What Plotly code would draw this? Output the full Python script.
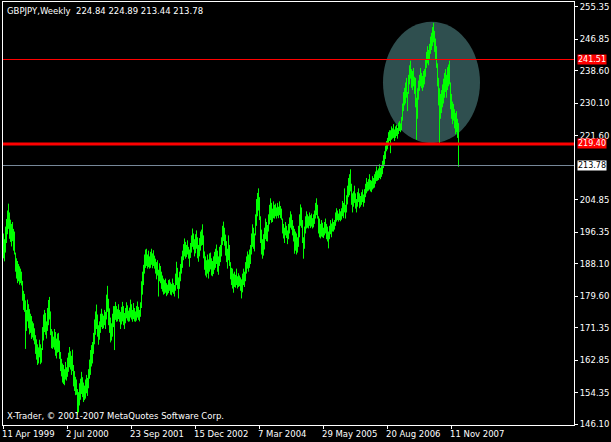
import pandas as pd
import plotly.graph_objects as go

# ---------------- data ----------------
SYMBOL = "GBPJPY,Weekly"
START = "1999-04-11"

HIGHS = [
    196.0, 194.5, 197.8, 199.8, 202.0, 203.8, 201.5, 199.6, 198.5, 199.0,
    197.2, 196.5, 191.0, 189.5, 188.8, 188.0, 187.4, 186.8, 186.0, 183.6,
    181.0, 180.2, 178.5, 176.0, 178.7, 177.5, 176.2, 175.0, 174.4, 173.0,
    172.5, 171.2, 169.4, 168.3, 167.0, 166.2, 168.2, 167.0, 166.0, 171.5,
    174.8, 176.0, 175.2, 173.0, 176.5, 178.6, 179.4, 175.6, 171.0, 170.4,
    169.0, 171.0, 170.2, 168.5, 169.8, 170.0, 168.0, 165.0, 163.2, 162.0,
    161.6, 160.5, 162.4, 161.0, 163.5, 164.8, 166.3, 165.2, 164.0, 165.6,
    161.6, 160.0, 158.5, 157.8, 155.3, 154.5, 156.8, 158.0, 159.8, 158.4,
    157.0, 156.2, 157.8, 159.0, 158.2, 160.5, 163.0, 165.5, 166.8, 167.6,
    170.0, 173.5, 175.6, 177.4, 174.8, 172.0, 173.0, 175.0, 176.3, 175.0,
    174.5, 176.0, 175.5, 180.0, 182.3, 178.9, 176.4, 174.0, 172.5, 175.0,
    177.0, 177.0, 178.1, 177.0, 176.2, 177.5, 176.0, 175.5, 176.8, 178.1,
    177.0, 175.2, 176.5, 178.0, 177.2, 175.8, 176.6, 178.7, 177.5, 176.0,
    177.8, 176.5, 175.6, 177.0, 178.2, 176.8, 176.0, 178.0, 183.5, 186.0,
    187.8, 190.5, 191.8, 192.0, 190.5, 191.5, 190.0, 191.2, 192.0, 190.8,
    191.6, 190.2, 189.4, 188.5, 189.0, 186.5, 188.2, 187.5, 186.0, 185.0,
    184.2, 183.8, 184.2, 183.0, 182.6, 183.8, 184.0, 183.2, 182.8, 184.2,
    183.0, 182.5, 185.5, 188.6, 187.0, 184.5, 186.0, 188.0, 190.0, 191.5,
    193.2, 194.7, 193.8, 193.0, 194.2, 192.5, 191.8, 193.5, 195.5, 197.3,
    196.0, 194.5, 195.8, 196.8, 195.0, 193.0, 194.8, 196.5, 197.0, 198.4,
    195.5, 191.3, 190.0, 189.0, 190.5, 189.2, 190.8, 191.0, 189.5, 188.8,
    190.0, 191.2, 192.0, 193.1, 191.5, 190.0, 192.5, 193.0, 195.0, 198.0,
    199.1, 197.5, 195.7, 194.0, 192.0, 195.5, 193.0, 188.5, 187.0, 186.8,
    185.5, 186.0, 185.2, 186.8, 184.8, 185.6, 185.0, 184.5, 184.0, 185.5,
    186.8, 186.0, 188.5, 190.0, 191.3, 190.5, 191.8, 193.0, 196.0, 198.4,
    197.5, 196.0, 201.0, 205.0, 206.6, 207.8, 205.5, 200.5, 197.0, 194.5,
    195.8, 197.5, 199.9, 199.0, 198.2, 201.0, 203.5, 205.2, 204.0, 202.5,
    204.4, 203.5, 203.8, 202.8, 204.0, 203.0, 204.4, 203.2, 202.5, 199.9,
    198.5, 197.5, 199.0, 198.0, 196.8, 198.5, 200.2, 201.8, 201.0, 199.5,
    198.0, 197.2, 196.5, 196.0, 195.0, 198.0, 201.0, 203.6, 202.8, 199.5,
    195.0, 197.8, 200.5, 201.8, 201.0, 200.5, 201.5, 200.8, 201.2, 200.0,
    201.0, 202.0, 204.0, 205.2, 203.5, 200.5, 199.9, 198.5, 199.5, 198.8,
    197.5, 199.0, 199.9, 198.5, 197.8, 196.5, 198.0, 199.5, 198.6, 199.9,
    199.0, 199.5, 201.5, 202.6, 202.0, 201.2, 202.4, 201.8, 202.6, 204.5,
    204.0, 207.8, 203.5, 206.0, 208.5, 210.5, 211.5, 212.8, 209.0, 206.5,
    207.0, 208.5, 206.5, 205.0, 206.8, 207.8, 206.5, 205.8, 206.8, 207.5,
    206.2, 207.6, 209.0, 210.5, 209.5, 210.2, 211.5, 210.0, 209.8, 211.0,
    210.5, 211.5, 212.2, 213.5, 212.5, 213.0, 214.1, 213.2, 213.8, 215.0,
    216.5, 217.5, 219.0, 220.2, 221.0, 222.5, 223.0, 223.0, 224.0, 223.5,
    224.6, 223.2, 224.0, 224.4, 223.6, 225.0, 225.4, 224.8, 226.5, 230.0,
    233.0, 234.1, 235.5, 236.7, 233.0, 237.5, 240.0, 241.2, 239.0, 238.5,
    239.3, 237.0, 236.7, 231.5, 234.0, 236.0, 237.5, 239.3, 238.0, 237.2,
    238.5, 239.0, 241.5, 243.5, 245.0, 244.0, 245.6, 247.5, 248.5, 250.0,
    251.1, 249.0, 247.0, 245.0, 240.5, 236.7, 234.0, 232.5, 233.5, 235.0,
    236.5, 238.0, 239.0, 237.5, 239.5, 240.2, 241.2, 235.5, 232.5, 230.5,
    229.9, 228.5, 227.5, 228.0, 226.0, 224.89,
]

LOWS = [
    189.5, 188.7, 191.0, 193.5, 195.8, 197.2, 194.6, 193.8, 192.6, 194.0,
    191.5, 190.5, 186.0, 184.2, 183.0, 183.5, 182.6, 183.0, 182.4, 178.4,
    176.0, 175.5, 165.8, 170.5, 173.0, 171.2, 169.6, 170.0, 168.4, 168.8,
    168.0, 167.0, 164.5, 163.0, 161.6, 162.0, 163.6, 161.8, 162.2, 165.5,
    168.0, 170.2, 169.5, 168.5, 170.5, 172.0, 173.5, 169.4, 166.0, 165.8,
    166.2, 165.6, 164.0, 163.3, 164.8, 165.0, 163.2, 160.0, 158.6, 157.0,
    156.6, 156.3, 157.8, 157.5, 158.5, 159.8, 161.0, 160.4, 159.0, 160.0,
    156.0, 154.8, 153.7, 153.8, 148.5, 149.2, 151.0, 152.5, 154.0, 153.2,
    151.9, 152.4, 152.8, 154.2, 153.5, 155.5, 158.0, 159.0, 161.2, 162.0,
    164.5, 167.0, 169.5, 171.0, 169.0, 166.9, 168.2, 170.0, 171.5, 171.0,
    171.2, 172.0, 171.0, 173.5, 175.5, 172.0, 170.0, 167.5, 168.0, 169.0,
    171.5, 165.5, 173.4, 172.9, 173.0, 173.6, 172.9, 171.0, 172.2, 173.0,
    172.0, 171.0, 172.5, 173.8, 173.2, 172.9, 173.0, 174.0, 173.5, 172.9,
    173.6, 173.0, 172.9, 173.2, 174.0, 173.4, 173.0, 174.2, 176.5, 180.0,
    182.5, 185.5, 187.0, 187.5, 186.8, 187.2, 186.8, 187.0, 187.8, 186.9,
    187.5, 186.8, 185.5, 184.0, 185.0, 179.5, 183.5, 183.0, 181.5, 180.8,
    180.0, 180.2, 180.5, 179.6, 180.0, 180.4, 181.0, 180.0, 179.8, 180.6,
    180.2, 179.5, 181.0, 182.5, 181.5, 179.0, 181.5, 183.5, 185.5, 187.0,
    189.0, 190.0, 189.4, 189.8, 190.5, 189.4, 187.3, 189.6, 191.0, 192.5,
    191.8, 190.0, 190.8, 192.0, 189.5, 188.6, 190.0, 191.5, 192.8, 193.0,
    189.5, 186.5, 185.0, 184.5, 185.5, 184.2, 186.0, 186.6, 185.0, 184.8,
    185.4, 186.5, 187.0, 188.0, 186.0, 185.2, 187.5, 188.5, 190.0, 193.0,
    194.0, 192.8, 190.2, 188.5, 186.8, 189.0, 187.5, 184.0, 182.5, 181.6,
    180.5, 182.0, 181.8, 182.5, 181.6, 182.0, 182.2, 181.0, 179.0, 180.6,
    182.5, 182.0, 183.5, 185.5, 186.8, 186.0, 187.0, 188.0, 190.5, 192.5,
    192.0, 191.3, 195.5, 198.0, 200.5, 202.0, 199.5, 193.5, 190.5, 189.4,
    190.2, 191.8, 194.5, 194.0, 193.9, 196.5, 198.4, 199.5, 198.8, 199.0,
    200.0, 199.9, 200.5, 199.9, 200.6, 200.0, 200.8, 200.0, 199.6, 196.0,
    194.7, 193.5, 195.5, 194.8, 193.2, 194.5, 196.0, 197.5, 197.0, 195.5,
    193.9, 190.7, 191.5, 190.5, 191.0, 192.5, 195.0, 198.0, 197.5, 193.5,
    189.4, 192.0, 196.0, 197.3, 197.5, 197.3, 198.0, 197.4, 197.8, 197.3,
    197.6, 198.5, 199.9, 200.8, 199.9, 196.0, 195.0, 194.7, 195.2, 195.0,
    194.8, 195.5, 196.0, 194.5, 193.9, 192.1, 194.5, 195.8, 195.0, 196.5,
    196.5, 197.0, 198.0, 199.1, 199.5, 199.1, 199.5, 199.2, 199.6, 200.5,
    200.0, 201.5, 199.9, 201.5, 203.6, 205.5, 206.0, 207.0, 203.5, 201.5,
    203.0, 204.0, 202.5, 201.5, 203.0, 204.2, 202.6, 203.0, 203.5, 204.2,
    203.0, 204.0, 205.5, 206.5, 207.0, 207.2, 207.5, 207.0, 206.8, 207.5,
    207.8, 208.0, 209.0, 209.7, 209.8, 210.0, 210.5, 210.2, 210.8, 211.5,
    213.1, 214.0, 215.5, 217.5, 218.0, 219.0, 220.2, 217.0, 220.5, 220.8,
    221.0, 220.2, 221.0, 221.5, 220.8, 222.0, 222.8, 222.5, 223.0, 225.5,
    228.0, 229.5, 230.0, 231.5, 228.0, 232.5, 235.0, 236.5, 234.1, 233.5,
    234.5, 232.5, 229.0, 220.5, 226.0, 231.0, 233.3, 234.5, 234.0, 233.3,
    234.2, 235.0, 237.0, 239.3, 240.5, 240.0, 241.5, 243.0, 244.0, 245.0,
    246.0, 243.5, 241.5, 239.3, 234.5, 229.5, 219.4, 226.0, 227.5, 229.0,
    230.0, 231.5, 233.0, 231.5, 233.5, 234.5, 235.0, 228.5, 226.0, 224.6,
    225.5, 223.5, 222.0, 222.5, 221.0, 213.44,
]

LAST_OHLC = [224.84, 224.89, 213.44, 213.78]   # open, high, low, close of last bar
RED_LEVELS = [241.51, 219.40]
CURRENT_PRICE = 213.78

Y_TICKS = [255.35, 246.85, 238.60, 230.10, 221.60, 204.85, 196.35,
           188.10, 179.60, 171.35, 162.85, 154.35, 146.10]
X_TICK_LABELS = ["11 Apr 1999", "2 Jul 2000", "23 Sep 2001", "15 Dec 2002",
                 "7 Mar 2004", "29 May 2005", "20 Aug 2006", "11 Nov 2007"]

ELLIPSE_DATES = ["2006-07-19 12:00", "2008-05-28 12:00"]
ELLIPSE_PRICES = [219.6, 251.4]

COPYRIGHT = "X-Trader, \u00a9 2001-2007 MetaQuotes Software Corp."

# ---------------- figure ----------------
W, H = 611, 442
ML, MR, MT, MB = 3, 37, 2, 17
FONT = "DejaVu Sans"
FS = 8.5
BOX_FS = 8
Y_RANGE = [145.895, 256.552]

dates = pd.date_range(START, periods=len(HIGHS), freq="7D")
bx, by = [], []
for d, hi, lo in zip(dates, HIGHS, LOWS):
    bx += [d, d, None]
    by += [lo, hi, None]

fig = go.Figure()
fig.add_trace(go.Scatter(x=bx, y=by, mode="lines",
                         line=dict(color="#00ff00", width=1),
                         hoverinfo="skip", showlegend=False))

start = pd.Timestamp(START)
x_range = [start - pd.Timedelta(days=3.5), start + pd.Timedelta(days=7 * 570.5)]
tick_dates = [pd.to_datetime(t, format="%d %b %Y") for t in X_TICK_LABELS]

shapes = [
    dict(type="circle", xref="x", yref="y",
         x0=ELLIPSE_DATES[0], x1=ELLIPSE_DATES[1],
         y0=ELLIPSE_PRICES[0], y1=ELLIPSE_PRICES[1],
         fillcolor="#2f4f4f", line=dict(width=0), layer="below"),
]
for lvl, w in zip(RED_LEVELS, [1, 3]):
    shapes.append(dict(type="line", xref="paper", yref="y", x0=0, x1=1,
                       y0=lvl, y1=lvl, line=dict(color="#ff0000", width=w)))
shapes.append(dict(type="line", xref="paper", yref="y", x0=0, x1=1,
                   y0=CURRENT_PRICE, y1=CURRENT_PRICE,
                   line=dict(color="#778899", width=1)))

annotations = []
for t, d in zip(X_TICK_LABELS, tick_dates):
    annotations.append(dict(x=d, y=0, xref="x", yref="paper", text=t,
                            xanchor="left", yanchor="top", showarrow=False,
                            xshift=-3, yshift=-3, borderpad=0,
                            font=dict(family=FONT, size=FS, color="white")))
for lvl in RED_LEVELS:
    annotations.append(dict(x=1, y=lvl, xref="paper", yref="y", text=f"{lvl:.2f}",
                            xanchor="left", yanchor="middle", showarrow=False,
                            xshift=3, yshift=1 if lvl < 230 else 0,
                            bgcolor="#ff0000", borderpad=0,
                            font=dict(family=FONT, size=BOX_FS, color="white")))
annotations.append(dict(x=1, y=CURRENT_PRICE, xref="paper", yref="y",
                        text=f"{CURRENT_PRICE:.2f}", xanchor="left", yanchor="middle",
                        showarrow=False, xshift=3, bgcolor="white", borderpad=0,
                        font=dict(family=FONT, size=BOX_FS, color="black")))
title_txt = SYMBOL + "  " + " ".join(f"{v:.2f}" for v in LAST_OHLC)
annotations.append(dict(x=0, y=1, xref="paper", yref="paper", text=title_txt,
                        xanchor="left", yanchor="top", showarrow=False,
                        xshift=3, yshift=-3, borderpad=0,
                        font=dict(family=FONT, size=FS, color="white")))
annotations.append(dict(x=0, y=0, xref="paper", yref="paper", text=COPYRIGHT,
                        xanchor="left", yanchor="bottom", showarrow=False,
                        xshift=3, yshift=3, borderpad=0,
                        font=dict(family=FONT, size=FS, color="white")))

fig.update_layout(
    template="none",
    width=W, height=H,
    margin=dict(l=ML, r=MR, t=MT, b=MB, pad=0),
    paper_bgcolor="black", plot_bgcolor="black",
    showlegend=False,
    shapes=shapes, annotations=annotations,
    xaxis=dict(type="date", range=x_range, tickvals=tick_dates,
               showticklabels=False, ticks="outside", ticklen=3,
               tickcolor="white", showline=True, linecolor="white",
               linewidth=1, mirror=True, showgrid=False, zeroline=False,
               automargin=False),
    yaxis=dict(side="right", range=Y_RANGE, tickvals=Y_TICKS,
               ticktext=[f"{v:.2f}" for v in Y_TICKS], ticks="outside",
               ticklen=3, tickcolor="white", showline=True, linecolor="white",
               linewidth=1, mirror=True, showgrid=False, zeroline=False,
               tickfont=dict(family=FONT, size=FS, color="white"),
               automargin=False),
)

fig.write_html(
    "out.html",
    config={"displayModeBar": False},
    post_script="document.body.style.margin='0';document.body.style.background='black';"
                "document.body.style.overflow='hidden';",
)
